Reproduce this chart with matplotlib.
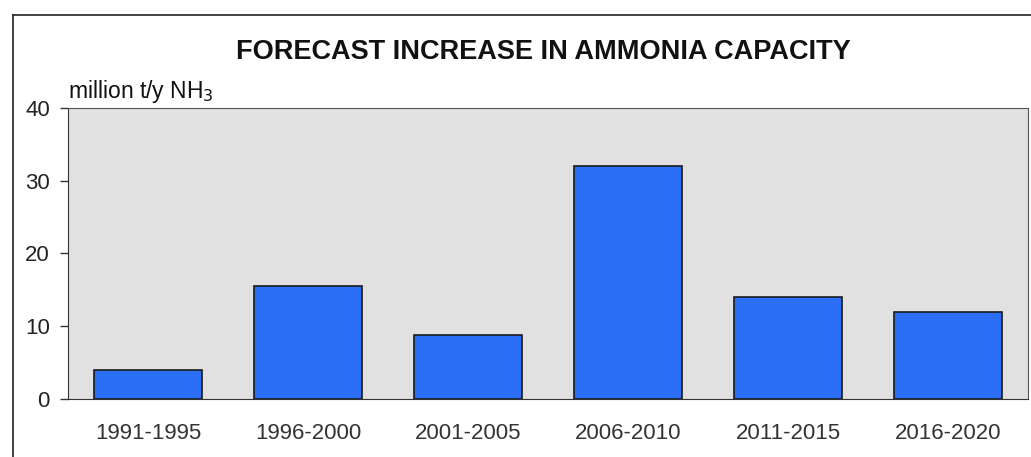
import matplotlib
matplotlib.use("Agg")
import matplotlib.pyplot as plt
from matplotlib.lines import Line2D

plt.rcParams["font.family"] = ["Liberation Sans", "DejaVu Sans"]

periods = ["1991-1995", "1996-2000", "2001-2005", "2006-2010", "2011-2015", "2016-2020"]
capacity = [4.0, 15.5, 8.8, 32.0, 14.0, 12.0]
yticks = [0, 10, 20, 30, 40]

fig = plt.figure(figsize=(10.31, 4.57), dpi=100)
ax = fig.add_axes([0.066, 0.127, 0.931, 0.637])
ax.set_facecolor("#e1e1e1")

x = range(len(periods))
ax.bar(x, capacity, width=0.67, color="#2a6ff6", edgecolor="#1a1a1a", linewidth=1.2)

ax.set_xlim(-0.5, len(periods) - 0.5)
ax.set_ylim(0, 40)
ax.set_yticks(yticks)
ax.set_xticks(list(x))
ax.set_xticklabels(periods)
ax.tick_params(axis="x", length=0, pad=17, labelsize=16, colors="#333333")
ax.tick_params(axis="y", length=6, width=1, pad=7, labelsize=16, colors="#333333")
for lbl in ax.get_yticklabels():
    lbl.set_color("#222222")
for side in ["top", "right"]:
    ax.spines[side].set_color("#555555")
for side in ["left", "bottom"]:
    ax.spines[side].set_color("#333333")

ax.text(0.0, 1.035, "million t/y NH$_3$", transform=ax.transAxes,
        fontsize=16.5, ha="left", va="baseline", color="#111111")
fig.text(0.527, 0.887, "FORECAST INCREASE IN AMMONIA CAPACITY",
         fontsize=19.5, fontweight="bold", ha="center", va="center", color="#111111")

# outer frame (top and left edges only)
fig.add_artist(Line2D([13 / 1031, 1.0], [1 - 15 / 457, 1 - 15 / 457],
                      transform=fig.transFigure, color="#222222", linewidth=1.2))
fig.add_artist(Line2D([13 / 1031, 13 / 1031], [0.0, 1 - 15 / 457],
                      transform=fig.transFigure, color="#222222", linewidth=1.2))

fig.savefig("out.png", dpi=100)
